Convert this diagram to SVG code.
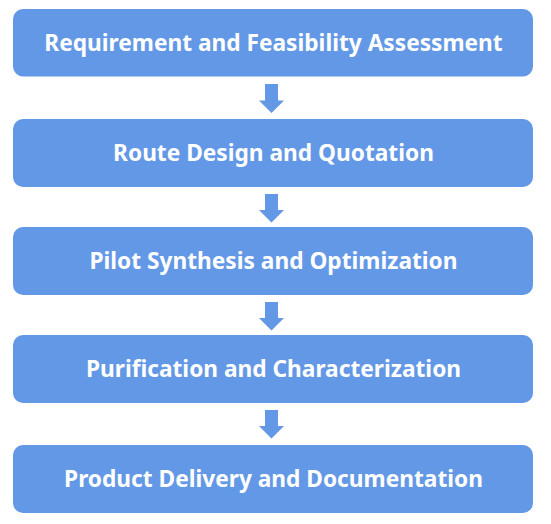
<svg xmlns="http://www.w3.org/2000/svg" width="551" height="524" viewBox="0 0 551 524">
<defs>
<style>
.box{fill:#6398E6}
.lbl{fill:#FFFFFF;font-family:"Noto Sans","Open Sans","DejaVu Sans",sans-serif;font-weight:bold;font-size:22.7px;text-anchor:middle}
.arr{fill:#6398E6}
</style>
</defs>
<rect width="551" height="524" fill="#FFFFFF"/>
<g id="connectors">
<path class="arr" d="M265,84 H278 V100.5 H284 L271.5,113 L259,100.5 H265 Z"/>
<path class="arr" d="M265,194 H278 V210 H284 L271.5,222.5 L259,210 H265 Z"/>
<path class="arr" d="M265,302 H278 V318 H284 L271.5,330.5 L259,318 H265 Z"/>
<path class="arr" d="M265,410 H278 V426 H284 L271.5,438.5 L259,426 H265 Z"/>
</g>
<g id="node1"><rect class="box" x="13" y="9" width="520" height="67.5" rx="10"/><text class="lbl" x="273.5" y="51">Requirement and Feasibility Assessment</text></g>
<g id="node2"><rect class="box" x="13" y="119" width="520" height="68" rx="10"/><text class="lbl" x="273.5" y="161">Route Design and Quotation</text></g>
<g id="node3"><rect class="box" x="13" y="227" width="520" height="68" rx="10"/><text class="lbl" x="273.5" y="269">Pilot Synthesis and Optimization</text></g>
<g id="node4"><rect class="box" x="13" y="335" width="520" height="68" rx="10"/><text class="lbl" x="273.5" y="377">Purification and Characterization</text></g>
<g id="node5"><rect class="box" x="13" y="445" width="520" height="68" rx="10"/><text class="lbl" x="273.5" y="487">Product Delivery and Documentation</text></g>
</svg>
